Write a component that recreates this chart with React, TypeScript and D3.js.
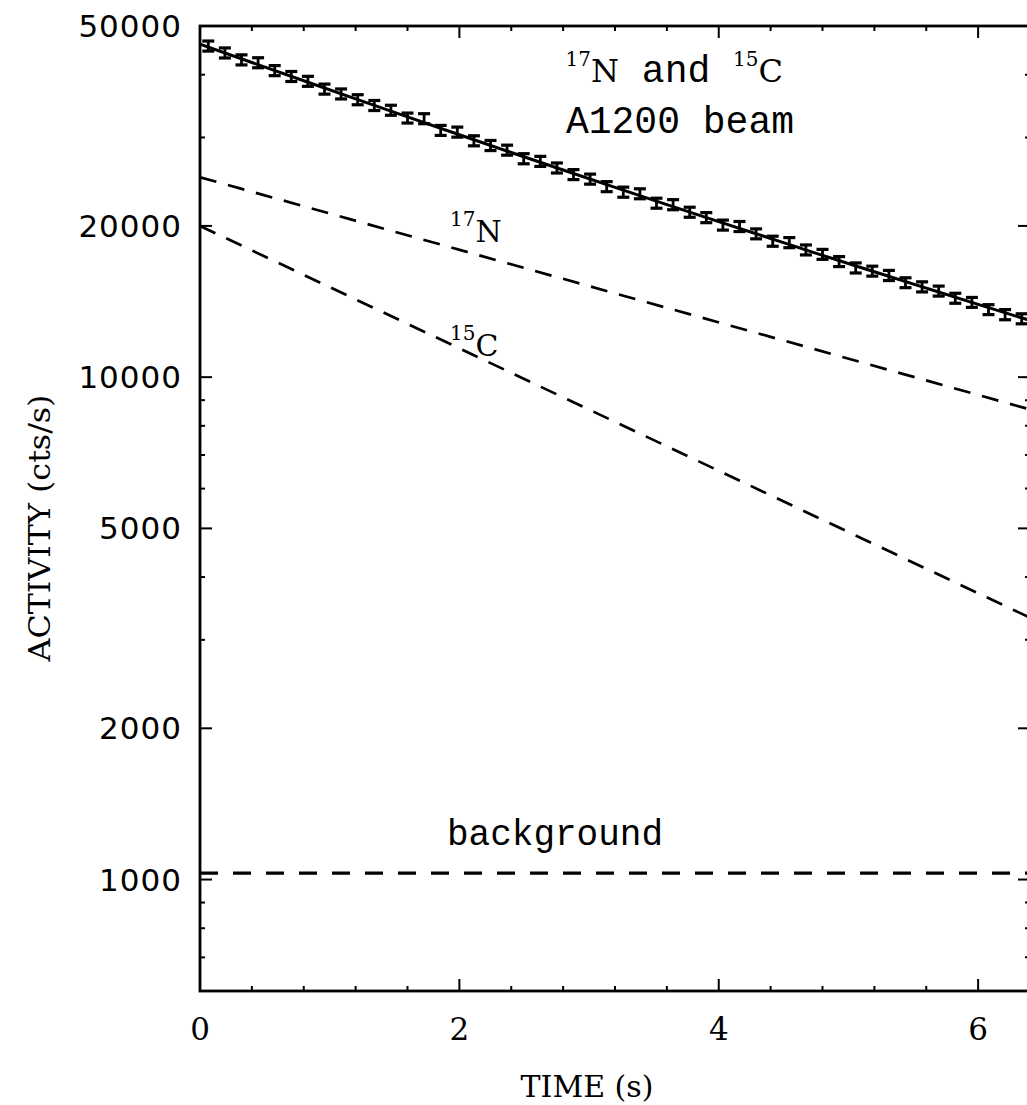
import React from 'react';
import * as d3 from 'd3';

// ---- data ----
const TIMES = [0.064, 0.192, 0.32, 0.448, 0.576, 0.704, 0.832, 0.96, 1.088, 1.216,
  1.344, 1.472, 1.6, 1.728, 1.856, 1.984, 2.112, 2.24, 2.368, 2.496,
  2.624, 2.752, 2.88, 3.008, 3.136, 3.264, 3.392, 3.52, 3.648, 3.776,
  3.904, 4.032, 4.16, 4.288, 4.416, 4.544, 4.672, 4.8, 4.928, 5.056,
  5.184, 5.312, 5.44, 5.568, 5.696, 5.824, 5.952, 6.08, 6.208, 6.336];
const RATES = [45620, 44200, 42820, 42260, 40760, 39680, 38810, 37450, 36630, 35670,
  34740, 33990, 32800, 32700, 30990, 30750, 29550, 28920, 28310, 27220,
  26890, 26090, 25310, 24790, 23950, 23350, 23180, 22200, 22050, 21300,
  20780, 20080, 19950, 19290, 18650, 18530, 17920, 17560, 16990, 16500,
  16260, 15940, 15420, 15130, 14840, 14360, 14090, 13630, 13320, 13070];
const ERRORS = [1050, 1020, 990, 970, 940, 910, 890, 860, 840, 820,
  800, 780, 750, 750, 710, 710, 680, 670, 650, 630,
  620, 600, 580, 570, 550, 540, 530, 510, 510, 490,
  480, 460, 460, 440, 430, 430, 410, 400, 390, 380,
  370, 370, 350, 350, 340, 330, 320, 310, 310, 300];

const FIT_T = [0, 0.4, 0.8, 1.2, 1.6, 2.0, 2.4, 2.8, 3.2, 3.6, 4.0, 4.4, 4.8, 5.2, 5.6, 6.0, 6.4];
const FIT_RATE = [46030, 42300, 38900, 35790, 32960, 30370, 28000, 25840, 23860, 22050,
  20400, 18880, 17480, 16210, 15040, 13960, 12970];

const LINE_T = [0, 6.4];
const N17_RATE = [25000, 8624];
const C15_RATE = [20000, 3320];
const BG_RATE = [1030, 1030];

const X_MAJOR = [0, 2, 4, 6];
const X_MINOR = [0.4, 0.8, 1.2, 1.6, 2.4, 2.8, 3.2, 3.6, 4.4, 4.8, 5.2, 5.6];
const Y_MAJOR = [1000, 2000, 5000, 10000, 20000, 50000];
const Y_MINOR = [600, 700, 800, 900, 3000, 4000, 6000, 7000, 8000, 9000, 30000, 40000];

const W = 1027, H = 1105;
const L = 200, R = 1030, T = 26, B = 991;

export default function App() {
  const x = d3.scaleLinear().domain([0, 6.4]).range([L, R]);
  const y = d3.scaleLog().domain([600, 50000]).range([B, T]);

  const line = d3.line<[number, number]>().x(d => x(d[0])).y(d => y(d[1]));
  const fitLine = d3.line<[number, number]>().x(d => x(d[0])).y(d => y(d[1])).curve(d3.curveMonotoneX);

  const pair = (ts: number[], vs: number[]) => ts.map((t, i) => [t, vs[i]] as [number, number]);

  const serif = '"DejaVu Serif", serif';
  const sans = '"DejaVu Sans", sans-serif';
  const mono = '"Liberation Mono", monospace';

  return (
    <svg width={W} height={H} style={{ position: 'absolute', left: 0, top: 0, display: 'block', background: '#fff' }}>
      <defs>
        <clipPath id="plot"><rect x={L} y={T} width={R - L} height={B - T} /></clipPath>
      </defs>
      <g clipPath="url(#plot)" fill="none" stroke="#000">
        <path d={line(pair(LINE_T, N17_RATE)) || ''} strokeWidth={2.7} strokeDasharray="17 12" />
        <path d={line(pair(LINE_T, C15_RATE)) || ''} strokeWidth={2.7} strokeDasharray="17 12" />
        <path d={line(pair(LINE_T, BG_RATE)) || ''} strokeWidth={3.3} strokeDasharray="18 15" />
        <path d={fitLine(pair(FIT_T, FIT_RATE)) || ''} strokeWidth={3} />
        {TIMES.map((t, i) => {
          const cx = x(t);
          const y1 = y(RATES[i] + ERRORS[i]);
          const y2 = y(RATES[i] - ERRORS[i]);
          return (
            <g key={i} strokeWidth={2.8}>
              <line x1={cx} x2={cx} y1={y1} y2={y2} />
              <line x1={cx - 6} x2={cx + 6} y1={y1} y2={y1} strokeWidth={3.2} />
              <line x1={cx - 6} x2={cx + 6} y1={y2} y2={y2} strokeWidth={3.2} />
            </g>
          );
        })}
      </g>

      {/* frame */}
      <rect x={L} y={T} width={R - L} height={B - T} fill="none" stroke="#000" strokeWidth={2.8} />

      {/* ticks */}
      <g stroke="#000" strokeWidth={2}>
        {X_MAJOR.map(v => (
          <g key={'xm' + v}>
            <line x1={x(v)} x2={x(v)} y1={B} y2={B - 12} />
            <line x1={x(v)} x2={x(v)} y1={T} y2={T + 12} />
          </g>
        ))}
        {X_MINOR.map(v => (
          <g key={'xn' + v}>
            <line x1={x(v)} x2={x(v)} y1={B} y2={B - 5} />
            <line x1={x(v)} x2={x(v)} y1={T} y2={T + 5} />
          </g>
        ))}
        {Y_MAJOR.map(v => (
          <g key={'ym' + v}>
            <line x1={L} x2={L + 12} y1={y(v)} y2={y(v)} />
            <line x1={R} x2={R - 12} y1={y(v)} y2={y(v)} />
          </g>
        ))}
        {Y_MINOR.map(v => (
          <g key={'yn' + v}>
            <line x1={L} x2={L + 5} y1={y(v)} y2={y(v)} />
            <line x1={R} x2={R - 5} y1={y(v)} y2={y(v)} />
          </g>
        ))}
      </g>

      {/* tick labels */}
      <g fontFamily={sans} fontSize={31} textAnchor="end" fill="#000">
        {Y_MAJOR.map(v => (
          <text key={'yl' + v} x={182} y={y(v) + 11} letterSpacing={1}>{String(v)}</text>
        ))}
      </g>
      <g fontFamily={serif} fontSize={31} textAnchor="middle" fill="#000">
        {X_MAJOR.map(v => (
          <text key={'xl' + v} x={x(v)} y={1040}>{String(v)}</text>
        ))}
      </g>

      {/* axis titles */}
      <text x={587} y={1097} fontFamily={serif} fontSize={30} textAnchor="middle">TIME (s)</text>
      <text transform="translate(50,528) rotate(-90)" fontFamily={serif} fontSize={30} textAnchor="middle"
        textLength={267} lengthAdjust="spacingAndGlyphs">ACTIVITY (cts/s)</text>

      {/* annotations */}
      <text x={783} y={82} textAnchor="end">
        <tspan fontFamily={serif} fontSize={20} dy={-16}>17</tspan>
        <tspan fontFamily={serif} fontSize={32} dy={16}>N</tspan>
        <tspan fontFamily={mono} fontSize={38}>{'\u00a0and\u00a0'}</tspan>
        <tspan fontFamily={serif} fontSize={20} dy={-16}>15</tspan>
        <tspan fontFamily={serif} fontSize={32} dy={16}>C</tspan>
      </text>
      <text x={794} y={133} textAnchor="end" fontFamily={mono} fontSize={38}>A1200 beam</text>

      <text x={450} y={242}>
        <tspan fontFamily={serif} fontSize={20} dy={-16}>17</tspan>
        <tspan fontFamily={serif} fontSize={30} dy={16}>N</tspan>
      </text>
      <text x={450} y={356}>
        <tspan fontFamily={serif} fontSize={20} dy={-16}>15</tspan>
        <tspan fontFamily={serif} fontSize={30} dy={16}>C</tspan>
      </text>

      <text x={447} y={845} fontFamily={mono} fontSize={36}>background</text>
    </svg>
  );
}
